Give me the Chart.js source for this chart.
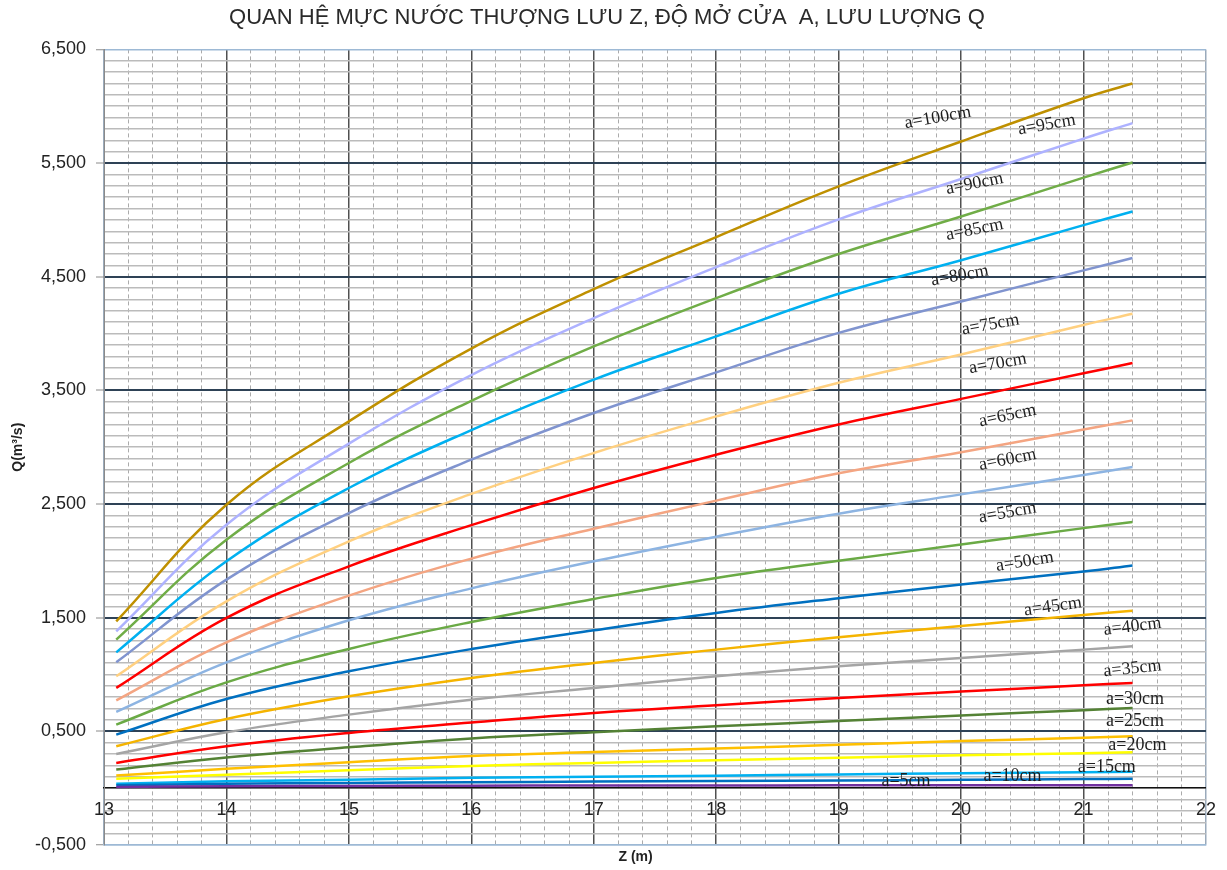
<!DOCTYPE html>
<html>
<head>
<meta charset="utf-8">
<script src="https://cdn.jsdelivr.net/npm/chart.js@4.4.1/dist/chart.umd.min.js"></script>
<style>
  html, body { margin: 0; padding: 0; background: #ffffff; }
  #wrap { width: 1227px; height: 870px; position: relative; }
</style>
</head>
<body>
<div id="wrap"><canvas id="chart"></canvas></div>
<script>
// Upstream water level Z (m)
const zLevels = [13.1, 14, 15, 16, 17, 18, 19, 20, 21, 21.4];

// Discharge Q (m3/s) for each gate opening a
const q5   = [11, 17, 20, 22, 23, 24, 25, 25, 26, 26];
const q10  = [26, 38, 46, 52, 58, 62, 67, 74, 80, 82];
const q15  = [40, 60, 75, 91, 100, 110, 120, 132, 140, 145];
const q20  = [82, 118, 158, 196, 222, 245, 267, 290, 308, 316];
const q25  = [111, 170, 228, 283, 318, 350, 381, 414, 443, 456];
const q30  = [164, 270, 360, 438, 493, 544, 590, 640, 686, 706];
const q35  = [222, 369, 486, 577, 662, 729, 794, 850, 905, 926];
const q40  = [301, 492, 647, 778, 882, 984, 1072, 1146, 1219, 1248];
const q45  = [369, 609, 808, 970, 1102, 1219, 1327, 1427, 1524, 1562];
const q50  = [471, 785, 1028, 1224, 1389, 1542, 1672, 1792, 1906, 1960];
const q55  = [559, 931, 1225, 1462, 1665, 1850, 2001, 2143, 2288, 2342];
const q60  = [671, 1107, 1477, 1758, 1996, 2213, 2415, 2585, 2755, 2826];
const q65  = [773, 1283, 1694, 2020, 2283, 2530, 2770, 2955, 3155, 3236];
const q70  = [882, 1498, 1952, 2314, 2641, 2934, 3200, 3425, 3650, 3740];
const q75  = [984, 1644, 2171, 2589, 2949, 3271, 3567, 3815, 4075, 4174];
const q80  = [1107, 1835, 2421, 2890, 3301, 3658, 4006, 4282, 4556, 4664];
const q85  = [1195, 1996, 2641, 3151, 3594, 3975, 4350, 4645, 4954, 5074];
const q90  = [1307, 2186, 2861, 3408, 3887, 4312, 4700, 5030, 5372, 5505];
const q95  = [1380, 2318, 3031, 3635, 4136, 4585, 5005, 5360, 5715, 5851];
const q100 = [1468, 2494, 3227, 3868, 4391, 4849, 5295, 5690, 6070, 6200];

const openingNames = ['a=5cm', 'a=10cm', 'a=15cm', 'a=20cm', 'a=25cm', 'a=30cm', 'a=35cm',
  'a=40cm', 'a=45cm', 'a=50cm', 'a=55cm', 'a=60cm', 'a=65cm', 'a=70cm', 'a=75cm',
  'a=80cm', 'a=85cm', 'a=90cm', 'a=95cm', 'a=100cm'];

const xTickLabels = ['13', '14', '15', '16', '17', '18', '19', '20', '21', '22'];
const yTickLabels = ['-0,500', '0,500', '1,500', '2,500', '3,500', '4,500', '5,500', '6,500'];

const seriesValues = [q5, q10, q15, q20, q25, q30, q35, q40, q45, q50,
  q55, q60, q65, q70, q75, q80, q85, q90, q95, q100];

const seriesColors = ['#7030A0', '#0070C0', '#00B0F0', '#FFFF00', '#FFC000', '#548235', '#FF0000',
  '#A5A5A5', '#F5B400', '#0070C0', '#6AAA45', '#8DB4E2', '#F4A582', '#FF0000', '#FFD080',
  '#8094CF', '#00B0F0', '#70AD47', '#AEB2FF', '#BF9000'];

// Where each curve name is written (in Z / Q units) and its tilt in degrees
const curveNamePlacement = [
  { z: 19.55, q: 58,   angle: 0 },
  { z: 20.42, q: 102,  angle: 0 },
  { z: 21.19, q: 182,  angle: 0 },
  { z: 21.44, q: 375,  angle: 0 },
  { z: 21.42, q: 586,  angle: 0 },
  { z: 21.42, q: 779,  angle: 0 },
  { z: 21.40, q: 1052, angle: -6 },
  { z: 21.40, q: 1421, angle: -7 },
  { z: 20.75, q: 1597, angle: -8 },
  { z: 20.52, q: 1993, angle: -9 },
  { z: 20.38, q: 2424, angle: -10 },
  { z: 20.38, q: 2890, angle: -11 },
  { z: 20.38, q: 3277, angle: -12 },
  { z: 20.30, q: 3735, angle: -10 },
  { z: 20.24, q: 4078, angle: -10 },
  { z: 19.99, q: 4509, angle: -10 },
  { z: 20.11, q: 4913, angle: -11 },
  { z: 20.11, q: 5318, angle: -11 },
  { z: 20.70, q: 5836, angle: -10 },
  { z: 19.81, q: 5899, angle: -10 }
];

const SANS = '"Liberation Sans", Arial, sans-serif';
const SERIF = '"Liberation Serif", "Times New Roman", serif';

const isInt = v => Math.abs(v - Math.round(v)) < 1e-6;
const isMajorQ = v => Math.abs(((v + 500) % 1000 + 1000) % 1000) < 1e-6;

const datasets = seriesValues.map((vals, i) => ({
  label: openingNames[i],
  data: zLevels.map((z, k) => ({ x: z, y: vals[k] })),
  borderColor: seriesColors[i],
  backgroundColor: seriesColors[i],
  borderWidth: 2.5,
  pointRadius: 0,
  tension: 0.4,
  fill: false
}));

const curveNames = {
  id: 'curveNames',
  afterDatasetsDraw(chart) {
    const { ctx } = chart;
    const xs = chart.scales.x, ys = chart.scales.y;
    ctx.save();
    ctx.font = '18px ' + SERIF;
    ctx.fillStyle = '#1e1e1e';
    ctx.textAlign = 'center';
    ctx.textBaseline = 'middle';
    curveNamePlacement.forEach((p, i) => {
      ctx.save();
      ctx.translate(xs.getPixelForValue(p.z), ys.getPixelForValue(p.q));
      ctx.rotate(p.angle * Math.PI / 180);
      ctx.fillText(openingNames[i], 0, 0);
      ctx.restore();
    });
    ctx.restore();
  }
};

new Chart(document.getElementById('chart'), {
  type: 'line',
  data: { datasets },
  plugins: [curveNames],
  options: {
    responsive: true,
    maintainAspectRatio: false,
    animation: false,
    layout: { padding: { left: 0, right: 13, top: 0, bottom: 0 } },
    plugins: {
      legend: { display: false },
      tooltip: { enabled: false },
      title: {
        display: true,
        text: 'QUAN HỆ MỰC NƯỚC THƯỢNG LƯU Z, ĐỘ MỞ CỬA  A, LƯU LƯỢNG Q',
        color: '#2a2a2a',
        font: { family: SANS, size: 22, weight: 'normal' },
        padding: { top: 5, bottom: 18 }
      }
    },
    scales: {
      x: {
        type: 'linear', min: 13, max: 22, position: 'bottom',
        ticks: { display: false, stepSize: 1 },
        grid: {
          drawTicks: false,
          lineWidth: 1.5,
          color: c => (c.tick && (isInt(c.tick.value) && (Math.round(c.tick.value) === 13 || Math.round(c.tick.value) === 22))) ? '#9aaabb' : '#505050'
        },
        border: { display: true, color: '#9DB9D5', width: 1.5 },
        title: {
          display: true, text: 'Z (m)          ', color: '#222',
          font: { family: SANS, size: 14, weight: 'bold' },
          padding: { top: 4, bottom: 4 }
        },
        afterFit(s) { s.height = 25; }
      },
      xMinor: {
        type: 'linear', min: 13, max: 22, position: 'bottom',
        ticks: { display: false, stepSize: 0.2, autoSkip: false },
        grid: {
          drawTicks: false,
          lineWidth: 1,
          color: c => (c.tick && isInt(c.tick.value)) ? 'rgba(0,0,0,0)' : '#ababab'
        },
        border: { display: false, dash: [4, 3] },
        afterFit(s) { s.height = 0; }
      },
      xAxisZero: {
        type: 'linear', min: 13, max: 22, position: { y: 0 },
        ticks: {
          stepSize: 1, autoSkip: false, padding: 11, color: '#222',
          font: { family: SANS, size: 18 },
          callback: v => isInt(v) ? xTickLabels[Math.round(v) - 13] : ''
        },
        grid: { drawOnChartArea: false, drawTicks: false },
        border: { display: true, color: '#111', width: 1.5 }
      },
      y: {
        type: 'linear', min: -500, max: 6500, position: 'left',
        ticks: {
          stepSize: 100, autoSkip: false, padding: 10, color: '#222',
          font: { family: SANS, size: 18 },
          callback: v => isMajorQ(v) ? yTickLabels[Math.round((v + 500) / 1000)] : ''
        },
        grid: {
          tickLength: 8,
          tickWidth: 1,
          tickColor: c => (c.tick && isMajorQ(c.tick.value)) ? '#8a8a8a' : 'rgba(0,0,0,0)',
          color: c => {
            if (!c.tick) return '#bbbbbb';
            const v = c.tick.value;
            if (v === 6500 || v === -500) return '#9DB9D5';
            return isMajorQ(v) ? '#2E4256' : '#bbbbbb';
          },
          lineWidth: c => (c.tick && isMajorQ(c.tick.value) && c.tick.value !== 6500 && c.tick.value !== -500) ? 2 : 1.5
        },
        border: { display: true, color: '#8a8a8a', width: 1 },
        title: {
          display: true, text: 'Q(m³/s)', color: '#222',
          font: { family: SANS, size: 14, weight: 'bold' },
          padding: { top: 10, bottom: 0 }
        },
        afterFit(s) { s.width = 104; }
      }
    }
  }
});
</script>
</body>
</html>
